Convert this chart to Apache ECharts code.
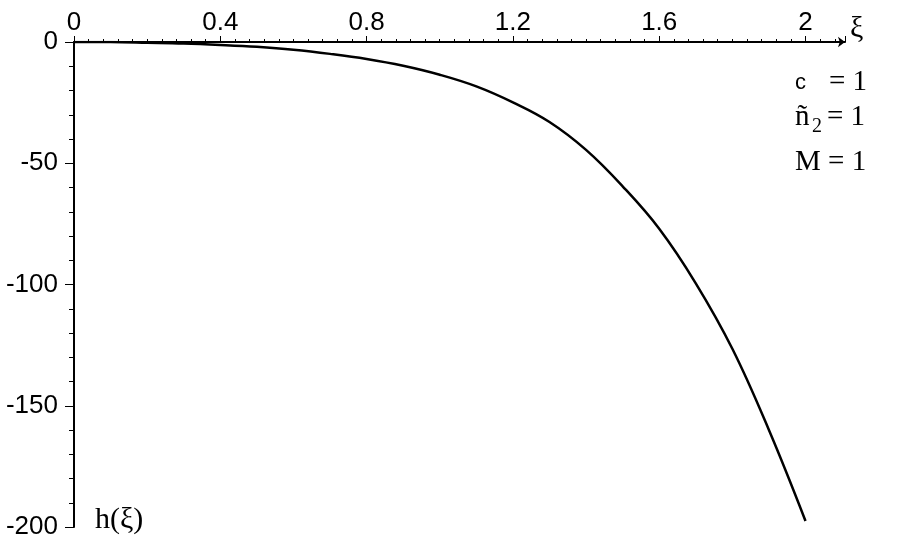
<!DOCTYPE html>
<html>
<head>
<meta charset="utf-8">
<script src="https://cdn.jsdelivr.net/npm/echarts@6/dist/echarts.min.js"></script>
<style>
  html, body { margin: 0; padding: 0; background: #fff; }
  #chart { width: 900px; height: 550px; }
</style>
</head>
<body>
<div id="chart"></div>
<script>
// xi values and h(xi)
const xiValues = [0, 0.1, 0.2, 0.3, 0.4, 0.5, 0.6, 0.7, 0.8, 0.9, 1.0, 1.1, 1.2, 1.3, 1.4, 1.5, 1.6, 1.7, 1.8, 1.9, 2.0];
const hValues = [0, -0.05, -0.3, -0.6, -1.2, -2.0, -3.2, -4.9, -7.0, -9.8, -13.5, -18.3, -24.9, -33, -44.5, -59.5, -77, -99.5, -126.5, -160, -197.5];
const xTickLabels = ['0', '0.4', '0.8', '1.2', '1.6', '2'];
const yTickLabels = ['0', '-50', '-100', '-150', '-200'];
const paramLines = ['c', 'ñ', 'M'];

const chart = echarts.init(document.getElementById('chart'));

const tickFont = 'Liberation Sans';
const mathFont = 'Liberation Serif';

let option = {
  animation: false,
  backgroundColor: '#fff',
  grid: {
    left: 74,
    right: 55,
    top: 42,
    bottom: 23
  },
  xAxis: {
    type: 'value',
    position: 'top',
    min: 0,
    max: 2.108,
    interval: 0.4,
    axisLine: {
      show: true,
      symbol: ['none', 'arrow'],
      symbolSize: [8, 7],
      lineStyle: { color: '#000', width: 2 }
    },
    axisTick: { show: true, length: 6, lineStyle: { color: '#000', width: 1 } },
    minorTick: { show: true, splitNumber: 10, length: 3, lineStyle: { color: '#000', width: 1 } },
    splitLine: { show: false },
    axisLabel: {
      showMaxLabel: false,
      margin: 6,
      color: '#000',
      fontFamily: tickFont,
      fontSize: 26,
      formatter: function (v) {
        const i = Math.round(v / 0.4);
        return Math.abs(v - i * 0.4) < 1e-6 ? xTickLabels[i] : '';
      }
    }
  },
  yAxis: {
    type: 'value',
    min: -200,
    max: 0,
    interval: 50,
    axisLine: { show: true, onZero: false, lineStyle: { color: '#000', width: 2 } },
    axisTick: { show: true, length: 9, lineStyle: { color: '#000', width: 1 } },
    minorTick: { show: true, splitNumber: 5, length: 5, lineStyle: { color: '#000', width: 1 } },
    splitLine: { show: false },
    axisLabel: {
      margin: 16,
      color: '#000',
      fontFamily: tickFont,
      fontSize: 26,
      formatter: function (v) {
        return yTickLabels[Math.round(-v / 50)];
      }
    }
  },
  graphic: [
    { type: 'text', left: 850, top: 14, style: { text: 'ξ', font: '30px ' + mathFont, fill: '#000' } },
    { type: 'text', left: 95, top: 505, style: { text: 'h(ξ)', font: '30px ' + mathFont, fill: '#000' } },
    { type: 'text', left: 795, top: 72, style: { text: paramLines[0], font: '22px ' + tickFont, fill: '#000' } },
    { type: 'text', left: 829, top: 68, style: { text: '= 1', font: '29px ' + mathFont, fill: '#000' } },
    { type: 'text', left: 795, top: 103, style: { text: paramLines[1], font: '29px ' + mathFont, fill: '#000' } },
    { type: 'text', left: 812, top: 117, style: { text: '2', font: '20px ' + mathFont, fill: '#000' } },
    { type: 'text', left: 827, top: 103, style: { text: '= 1', font: '29px ' + mathFont, fill: '#000' } },
    { type: 'text', left: 795, top: 148, style: { text: paramLines[2] + ' = 1', font: '29px ' + mathFont, fill: '#000' } }
  ],
  series: [
    {
      type: 'line',
      data: xiValues.map((x, i) => [x, hValues[i]]),
      smooth: 0.4,
      showSymbol: false,
      lineStyle: { color: '#000', width: 2.5 }
    }
  ]
};
chart.setOption(option);
</script>
</body>
</html>
